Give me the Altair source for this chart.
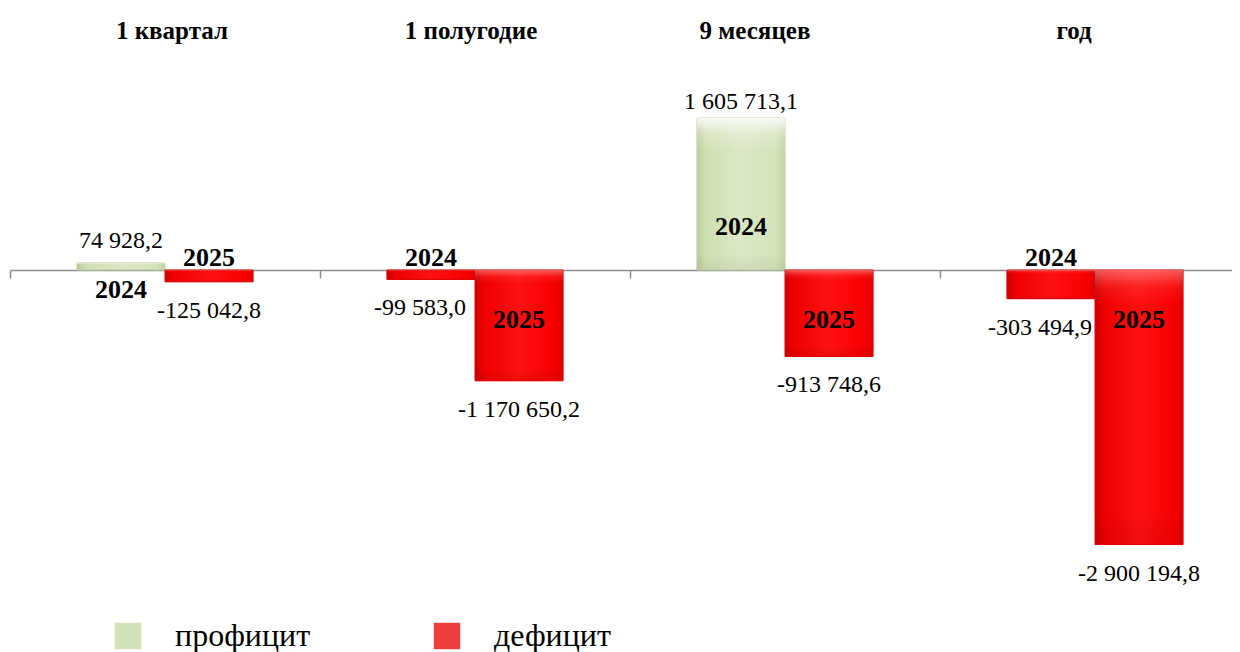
import altair as alt
import pandas as pd

periods = ["1 квартал", "1 полугодие", "9 месяцев", "год"]
years = ["2024", "2025"]
values_2024 = [74928.2, -99583.0, 1605713.1, -303494.9]
values_2025 = [-125042.8, -1170650.2, -913748.6, -2900194.8]
kinds = ["профицит", "дефицит"]

SERIF = "Liberation Serif"


def fmt(v):
    s = f"{abs(v):,.1f}".replace(",", " ").replace(".", ",")
    return ("-" if v < 0 else "") + s


rows = []
for i, p in enumerate(periods):
    for y, vals in zip(years, [values_2024, values_2025]):
        v = vals[i]
        rows.append({"period": p, "year": y, "value": v, "label": fmt(v),
                     "kind": kinds[0] if v > 0 else kinds[1]})
df = pd.DataFrame(rows)

x_scale = alt.Scale(domain=periods, paddingInner=0, paddingOuter=0)
xo = alt.XOffset("year:N", sort=years, scale=alt.Scale(paddingInner=0, paddingOuter=0.76))
y_enc = alt.Y("value:Q", scale=alt.Scale(domain=[-4035400, 2239550], nice=False, zero=True), axis=None)

title_shift = {
    "condition": [
        {"test": "datum.label === '1 квартал'", "value": 7},
        {"test": "datum.label === '1 полугодие'", "value": -4},
        {"test": "datum.label === '9 месяцев'", "value": -30},
    ],
    "value": -21,
}

top_axis = alt.Axis(orient="top", title=None, labelFont=SERIF, labelFontSize=25,
                    labelFontWeight="bold", labelColor="black", labelAngle=0,
                    ticks=False, tickSize=0, domain=False, labelPadding=28,
                    labelBaseline="middle", grid=False, labelOffset=title_shift)
bottom_axis = alt.Axis(orient="bottom", title=None, labels=False, ticks=True, tickSize=8,
                       tickColor="#8c8c8c", tickWidth=1.5, domainColor="#8c8c8c",
                       domainWidth=1.5, bandPosition=0, offset=-382, grid=False)

base = alt.Chart(df)

bars = base.mark_bar().encode(
    x=alt.X("period:N", sort=periods, scale=x_scale, axis=top_axis),
    xOffset=xo,
    y=y_enc,
    color=alt.Color("kind:N", scale=alt.Scale(domain=kinds, range=["#d3e1b8", "#f03c3c"]),
                    legend=alt.Legend(orient="none", legendX=102, legendY=562,
                                      direction="horizontal", title=None,
                                      symbolType="square", symbolSize=700,
                                      symbolStrokeWidth=0, labelFont=SERIF,
                                      labelFontSize=32, labelOffset=31,
                                      columnPadding=120, padding=0,
                                      labelColor="black", labelLimit=0)),
)

green_grad = alt.Gradient(gradient="linear", x1=0, x2=1, y1=0, y2=0, stops=[
    alt.GradientStop(color="#b9c99a", offset=0),
    alt.GradientStop(color="#d0dfb3", offset=0.1),
    alt.GradientStop(color="#dbe7c5", offset=0.5),
    alt.GradientStop(color="#d4e2ba", offset=0.9),
    alt.GradientStop(color="#c2d2a5", offset=1),
])
red_grad = alt.Gradient(gradient="linear", x1=0, x2=1, y1=0, y2=0, stops=[
    alt.GradientStop(color="#c80000", offset=0),
    alt.GradientStop(color="#f00000", offset=0.1),
    alt.GradientStop(color="#ff1010", offset=0.5),
    alt.GradientStop(color="#f80000", offset=0.9),
    alt.GradientStop(color="#e00000", offset=1),
])
green_shine = alt.Gradient(gradient="linear", x1=0, x2=0, y1=0, y2=1, stops=[
    alt.GradientStop(color="rgba(255,255,255,0.85)", offset=0),
    alt.GradientStop(color="rgba(255,255,255,0.25)", offset=0.1),
    alt.GradientStop(color="rgba(255,255,255,0)", offset=0.22),
    alt.GradientStop(color="rgba(0,0,0,0)", offset=0.9),
    alt.GradientStop(color="rgba(90,110,50,0.08)", offset=1),
])
red_shine = alt.Gradient(gradient="linear", x1=0, x2=0, y1=0, y2=1, stops=[
    alt.GradientStop(color="rgba(255,255,255,0.35)", offset=0),
    alt.GradientStop(color="rgba(255,255,255,0.08)", offset=0.06),
    alt.GradientStop(color="rgba(255,255,255,0)", offset=0.12),
    alt.GradientStop(color="rgba(0,0,0,0)", offset=0.88),
    alt.GradientStop(color="rgba(120,0,0,0.10)", offset=1),
])

x_plain = alt.X("period:N", sort=periods, scale=x_scale, axis=None)

pos_bars = base.transform_filter("datum.value > 0").mark_bar(
    color=green_grad, stroke="#c5d4a8", strokeWidth=1).encode(
    x=alt.X("period:N", sort=periods, scale=x_scale, axis=bottom_axis), xOffset=xo, y=y_enc)
neg_bars = base.transform_filter("datum.value < 0").mark_bar(
    color=red_grad, stroke="#e00000", strokeWidth=1).encode(x=x_plain, xOffset=xo, y=y_enc)
pos_shine = base.transform_filter("datum.value > 0").mark_bar(color=green_shine).encode(
    x=x_plain, xOffset=xo, y=y_enc)
neg_shine = base.transform_filter("datum.value < 0").mark_bar(color=red_shine).encode(
    x=x_plain, xOffset=xo, y=y_enc)

pos_vals_big = base.transform_filter("datum.value > 500000").mark_text(
    font=SERIF, fontSize=24, baseline="bottom", dy=-4, color="black").encode(
    x=x_plain, xOffset=xo, y=y_enc, text="label:N")
pos_vals_small = base.transform_filter("datum.value > 0 && datum.value <= 500000").mark_text(
    font=SERIF, fontSize=24, baseline="bottom", dy=-10, color="black").encode(
    x=x_plain, xOffset=xo, y=y_enc, text="label:N")
neg_vals_2025 = base.transform_filter("datum.value < 0 && datum.year === '2025'").mark_text(
    font=SERIF, fontSize=24, baseline="top", dy=17, color="black").encode(
    x=x_plain, xOffset=xo, y=y_enc, text="label:N")
neg_vals_2024 = base.transform_filter("datum.value < 0 && datum.year === '2024'").mark_text(
    font=SERIF, fontSize=24, baseline="top", dy=17, dx=-11, color="black").encode(
    x=x_plain, xOffset=xo, y=y_enc, text="label:N")


def year_layer(cond, dy):
    return base.transform_filter(cond).mark_text(
        font=SERIF, fontSize=26, fontWeight="bold", baseline="middle", dy=dy,
        color="black").encode(x=x_plain, xOffset=xo, y=alt.datum(0), text="year:N")


yr_big_pos = year_layer("datum.value > 500000", -43)
yr_big_neg = year_layer("datum.value < -500000", 50)
yr_small_pos = year_layer("datum.value > 0 && datum.value <= 500000", 20)
yr_small_neg = year_layer("datum.value < 0 && datum.value >= -500000", -12)

chart = alt.layer(
    bars, pos_bars, neg_bars, pos_shine, neg_shine,
    pos_vals_big, pos_vals_small, neg_vals_2025, neg_vals_2024,
    yr_big_pos, yr_big_neg, yr_small_pos, yr_small_neg,
).resolve_axis(x="independent").properties(
    width=1240, height=594,
    padding={"left": 2, "top": 50, "right": -18, "bottom": 0},
    autosize=alt.AutoSizeParams(type="none"),
).configure_view(stroke=None)

chart.save("out.html", embed_options={"renderer": "svg", "actions": False})
